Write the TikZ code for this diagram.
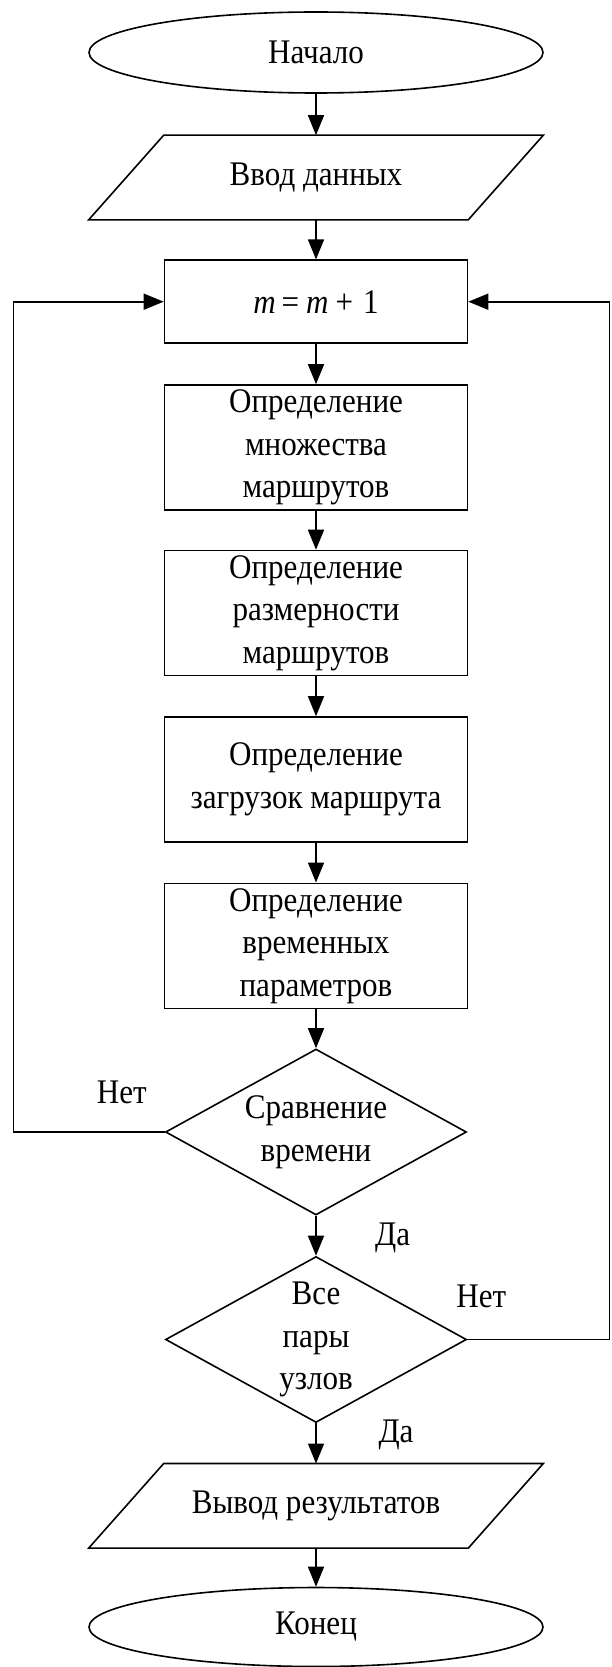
\documentclass[tikz,border=0pt]{standalone}
\usepackage{fontspec}
\setmainfont{Liberation Serif}[FakeStretch=0.9]
\usetikzlibrary{shapes.geometric,arrows.meta}
\begin{document}
\begin{tikzpicture}[x=1pt,y=-1pt,
  font=\fontsize{34.5}{42.5}\selectfont,
  line width=1.6pt,
  flow/.style={-{Triangle[length=20pt,width=16pt]}},
  term/.style={ellipse,draw,minimum width=454pt,minimum height=81pt,inner sep=0pt},
  proc/.style={rectangle,draw,minimum width=303pt,minimum height=125pt,inner sep=0pt,align=center},
  io/.style={rectangle,minimum width=303pt,minimum height=83pt,inner sep=0pt},
  dec/.style={diamond,draw,minimum width=301pt,minimum height=166pt,inner sep=0pt},
  lbl/.style={inner sep=0pt}]
\useasboundingbox (0,0) rectangle (611,1667);
\node[term] (start) at (316,52.5) {Начало};
\node[io] (in) at (316,177.5) {Ввод данных};
\draw (in.north west) -- ([xshift=75pt]in.north east) -- (in.south east) -- ([xshift=-75pt]in.south west) -- cycle;
\node[proc,minimum height=83pt] (m) at (316,301.7) {{\itshape m}\kern6pt=\kern7pt{\itshape m}\kern7pt+\kern10pt1};
\node[proc] (b1) at (316,447.5) {Определение\\множества\\маршрутов};
\node[proc] (b2) at (316,613) {Определение\\размерности\\маршрутов};
\node[proc] (b3) at (316,779.5) {Определение\\загрузок маршрута};
\node[proc] (b4) at (316,945.8) {Определение\\временных\\параметров};
\node[dec,label={[align=center,inner sep=0pt]center:{Сравнение\\времени}}] (d1) at (316,1132) {};
\node[dec,label={[align=center,inner sep=0pt]center:{Все\\пары\\узлов}}] (d2) at (316,1339.5) {};
\node[io] (out) at (316,1505.8) {Вывод результатов};
\draw (out.north west) -- ([xshift=75pt]out.north east) -- (out.south east) -- ([xshift=-75pt]out.south west) -- cycle;
\node[term,minimum height=79pt] (end) at (316,1627) {Конец};

\coordinate (L) at (13.6,301.7);
\coordinate (R) at (609.4,301.7);

\draw[flow] (start) -- (in);
\draw[flow] (in) -- (m);
\draw[flow] (m) -- (b1);
\draw[flow] (b1) -- (b2);
\draw[flow] (b2) -- (b3);
\draw[flow] (b3) -- (b4);
\draw[flow] (b4) -- (d1.north);
\draw[flow] (d1.south) -- (d2.north);
\draw[flow] (d2.south) -- (out.north);
\draw[flow] (out) -- (end);
\draw[flow] (d1.west) -| (L) -- (m.west);
\draw[flow] (d2.east) -| (R) -- (m.east);

\node[lbl] (no1) at (121.8,1092.5) {Нет};
\node[lbl] (yes1) at (392.6,1238) {Да};
\node[lbl] (no2) at (481.3,1296.7) {Нет};
\node[lbl] (yes2) at (396,1435) {Да};
\end{tikzpicture}
\end{document}
